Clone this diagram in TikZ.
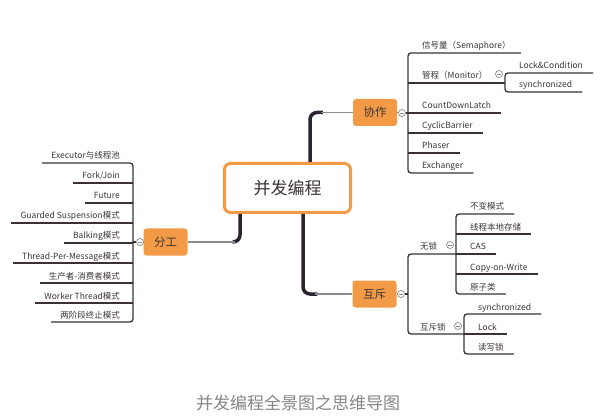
\documentclass[tikz,border=0pt]{standalone}
\usepackage{fontspec}
\setmainfont{Noto Sans CJK SC}
\definecolor{orangef}{HTML}{F29A45}
\definecolor{darkl}{HTML}{3A3036}
\definecolor{trunkc}{HTML}{2B2330}
\definecolor{txt}{HTML}{3C3438}
\definecolor{grayl}{HTML}{8C8A8C}
\definecolor{capgray}{HTML}{85858A}
\begin{document}
\begin{tikzpicture}[x=1pt,y=-1pt,
  leaf/.style={font=\fontsize{8.5}{10}\selectfont, text=txt, inner sep=0pt},
  lineL/.style={draw=darkl, line width=1.3pt},
  trunk/.style={draw=trunkc, line width=3.5pt, rounded corners=7pt},
  conn/.style={draw=grayl, line width=1.1pt},
  tog/.style={circle, draw=grayl, fill=white, line width=0.7pt, minimum size=7pt, inner sep=0pt,
    path picture={\draw[grayl, line width=0.6pt] ([xshift=-2pt]path picture bounding box.center) -- ([xshift=2pt]path picture bounding box.center);}},
  topic/.style={fill=orangef, rounded corners=3pt, minimum width=44pt, minimum height=27pt,
    font=\fontsize{11.5}{13}\selectfont, text=txt, inner sep=0pt},
  mainbox/.style={draw=orangef, line width=3pt, fill=white, rounded corners=6pt,
    minimum width=126pt, minimum height=49pt, font=\fontsize{17}{20}\selectfont, text=txt}
]
\useasboundingbox (0,0) rectangle (601,419);

% central and topics
\node[mainbox] (main) at (287.5,188) {并发编程};
\node[topic] (xz) at (375,112.5) {协作};
\node[topic] (hc) at (374.5,294) {互斥};
\node[topic] (fg) at (165.5,242) {分工};

% trunks
\draw[trunk] ([xshift=22.5pt]main.north) |- ([xshift=-30pt]xz.west);
\draw[conn] ([xshift=-32pt]xz.west) -- (xz.west);
\draw[trunk] ([xshift=15.5pt]main.south) |- ([xshift=-35pt]hc.west);
\draw[conn] ([xshift=-37pt]hc.west) -- (hc.west);
\draw[trunk] ([xshift=-47.5pt]main.south) |- ([xshift=45pt]fg.east);
\draw[conn] ([xshift=47pt]fg.east) -- (fg.east);

% ---------- 协作 ----------
\node[tog] (c1) at (402,113) {};
\draw[conn] (xz.east) -- (c1);
\coordinate (b1) at (408,113);
\draw[lineL] (c1.east) -- (b1);
\node[leaf, anchor=base west] (x1) at (422,49) {信号量（Semaphore）};
\node[leaf, anchor=base west] (x2) at (422,79) {管程（Monitor）};
\node[leaf, anchor=base west] (x3) at (422,109) {CountDownLatch};
\node[leaf, anchor=base west] (x4) at (422,129) {CyclicBarrier};
\node[leaf, anchor=base west] (x5) at (422,149) {Phaser};
\node[leaf, anchor=base west] (x6) at (422,169) {Exchanger};
\draw[lineL, rounded corners=3pt] ([xshift=10pt,yshift=-4pt]x1.base east) -- (408,53) -- (408,173) -- ([xshift=10pt,yshift=-4pt]x6.base east);
\coordinate (b2) at (505,83);
\draw[lineL] (408,83) -- (b2);
\draw[lineL] (b1) -- ([xshift=10pt,yshift=-4pt]x3.base east);
\draw[lineL] (408,133) -- ([xshift=10pt,yshift=-4pt]x4.base east);
\draw[lineL] (408,153) -- ([xshift=10pt,yshift=-4pt]x5.base east);
\node[tog] (c2) at (499,74) {};
\node[leaf, anchor=base west] (m1) at (519,69) {Lock\&Condition};
\node[leaf, anchor=base west] (m2) at (519,88) {synchronized};
\draw[lineL, rounded corners=3pt] ([xshift=10pt,yshift=-4pt]m1.base east) -- (505,73) -- (505,92) -- ([xshift=10pt,yshift=-4pt]m2.base east);

% ---------- 互斥 ----------
\node[tog] (c3) at (401,294) {};
\draw[conn] (hc.east) -- (c3);
\coordinate (b3) at (408,294);
\draw[lineL] (c3.east) -- (b3);
\node[leaf, anchor=base west] (w) at (420,250) {无锁};
\node[leaf, anchor=base west] (h) at (420,330) {互斥锁};
\coordinate (b4) at (456,254);
\coordinate (b5) at (464,334);
\draw[lineL, rounded corners=3pt] (b4) -- (408,254) -- (408,334) -- (b5);
\node[tog] (c4) at (450,245) {};
\node[tog] (c5) at (458,326) {};
\node[leaf, anchor=base west] (w1) at (470,210) {不变模式};
\node[leaf, anchor=base west] (w2) at (470,230) {线程本地存储};
\node[leaf, anchor=base west] (w3) at (470,250) {CAS};
\node[leaf, anchor=base west] (w4) at (470,270) {Copy-on-Write};
\node[leaf, anchor=base west] (w5) at (470,290) {原子类};
\draw[lineL, rounded corners=3pt] ([xshift=10pt,yshift=-4pt]w1.base east) -- (456,214) -- (456,294) -- ([xshift=10pt,yshift=-4pt]w5.base east);
\draw[lineL] (456,234) -- ([xshift=10pt,yshift=-4pt]w2.base east);
\draw[lineL] (b4) -- ([xshift=10pt,yshift=-4pt]w3.base east);
\draw[lineL] (456,274) -- ([xshift=10pt,yshift=-4pt]w4.base east);
\node[leaf, anchor=base west] (h1) at (478,310) {synchronized};
\node[leaf, anchor=base west] (h2) at (478,330) {Lock};
\node[leaf, anchor=base west] (h3) at (478,350) {读写锁};
\draw[lineL, rounded corners=3pt] ([xshift=10pt,yshift=-4pt]h1.base east) -- (464,314) -- (464,354) -- ([xshift=10pt,yshift=-4pt]h3.base east);
\draw[lineL] (b5) -- ([xshift=10pt,yshift=-4pt]h2.base east);

% ---------- 分工 ----------
\node[tog] (c6) at (140,242) {};
\draw[conn] (fg.west) -- (c6);
\coordinate (b6) at (133,242);
\draw[lineL] (c6.west) -- (b6);
\node[leaf, anchor=base east] (f1) at (120,159) {Executor与线程池};
\node[leaf, anchor=base east] (f2) at (120,179) {Fork/Join};
\node[leaf, anchor=base east] (f3) at (120,199) {Future};
\node[leaf, anchor=base east] (f4) at (120,219) {Guarded Suspension模式};
\node[leaf, anchor=base east] (f5) at (120,239) {Balking模式};
\node[leaf, anchor=base east] (f6) at (120,259) {Thread-Per-Message模式};
\node[leaf, anchor=base east] (f7) at (120,279) {生产者-消费者模式};
\node[leaf, anchor=base east] (f8) at (120,299) {Worker Thread模式};
\node[leaf, anchor=base east] (f9) at (120,318) {两阶段终止模式};
\draw[lineL, rounded corners=3pt] ([xshift=-9pt,yshift=-4pt]f1.base west) -- (133,163) -- (133,322) -- ([xshift=-9pt,yshift=-4pt]f9.base west);
\draw[lineL] (133,183) -- ([xshift=-9pt,yshift=-4pt]f2.base west);
\draw[lineL] (133,203) -- ([xshift=-9pt,yshift=-4pt]f3.base west);
\draw[lineL] (133,223) -- ([xshift=-9pt,yshift=-4pt]f4.base west);
\draw[lineL] (133,243) -- ([xshift=-9pt,yshift=-4pt]f5.base west);
\draw[lineL] (133,263) -- ([xshift=-9pt,yshift=-4pt]f6.base west);
\draw[lineL] (133,283) -- ([xshift=-9pt,yshift=-4pt]f7.base west);
\draw[lineL] (133,303) -- ([xshift=-9pt,yshift=-4pt]f8.base west);

% caption
\node[font=\fontsize{17}{20}\selectfont, text=capgray] (cap) at (298,403) {并发编程全景图之思维导图};
\end{tikzpicture}
\end{document}
